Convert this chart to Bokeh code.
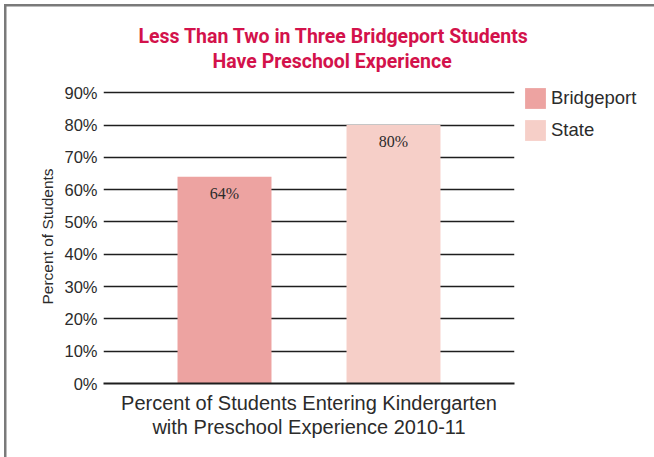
from bokeh.plotting import figure
from bokeh.models import (FactorRange, Range1d, Legend, LegendItem, Title,
                          ColumnDataSource, LabelSet, FixedTicker)
from bokeh.embed import file_html
from bokeh.resources import INLINE

# ---- data ----
categories = ["Bridgeport", "State"]
values = [64, 80]
value_labels = ["64%", "80%"]
bar_colors = ["#eda3a1", "#f6cfc8"]
y_ticks = [0, 10, 20, 30, 40, 50, 60, 70, 80, 90]
y_tick_labels = ["0%", "10%", "20%", "30%", "40%", "50%", "60%", "70%", "80%", "90%"]
title_lines = ["Less Than Two in Three Bridgeport Students", "Have Preschool Experience"]
x_label_lines = ["Percent of Students Entering Kindergarten", "with Preschool Experience 2010-11"]
y_label = "Percent of Students"

# ---- layout ----
W, H = 654, 457
Y_END = 91
B, T = 383, 89
L, R = 103, 514
PAD = 0.216

CRIMSON = "#d3124b"
TXT = "#2b2b2b"
FONT = "Liberation Sans"
TFONT = "Roboto"

p = figure(frame_width=R - L, frame_height=B - T,
           x_range=FactorRange(factors=categories, range_padding=PAD,
                               range_padding_units="absolute"),
           y_range=Range1d(0, Y_END),
           output_backend="svg", toolbar_location=None,
           min_border_left=L, min_border_right=W - R,
           min_border_top=T, min_border_bottom=H - B)
p.title = None
p.outline_line_color = None
p.background_fill_color = "white"
p.border_fill_color = None
p.styles = {"box-shadow": "inset 4px 4px 0 0 #ffffff, inset 6.5px 6.5px 0 0 #7a7a7a"}

src = ColumnDataSource(dict(cat=categories, val=values, lbl=value_labels, col=bar_colors))
bars = p.vbar(x="cat", top="val", width=0.556, fill_color="col", line_color=None, source=src)

# grid
p.xgrid.grid_line_color = None
p.ygrid.ticker = FixedTicker(ticks=y_ticks)
p.ygrid.grid_line_color = "#1e1e1e"
p.ygrid.grid_line_width = 1.6

# y axis
p.yaxis.ticker = FixedTicker(ticks=y_ticks)
p.yaxis.major_label_overrides = {t: s for t, s in zip(y_ticks, y_tick_labels)}
p.yaxis.axis_line_color = None
p.yaxis.major_tick_line_color = None
p.yaxis.major_tick_out = 0
p.yaxis.major_tick_in = 0
p.yaxis.minor_tick_line_color = None
p.yaxis.major_label_standoff = 6
p.yaxis.major_label_text_font = FONT
p.yaxis.major_label_text_font_size = "16.5px"
p.yaxis.major_label_text_color = TXT
p.yaxis.axis_label = y_label
p.yaxis.axis_label_standoff = 5
p.yaxis.axis_label_text_font = FONT
p.yaxis.axis_label_text_font_size = "15.5px"
p.yaxis.axis_label_text_font_style = "normal"
p.yaxis.axis_label_text_color = TXT

# x axis
p.xaxis.major_label_text_color = None
p.xaxis.major_label_text_font_size = "1px"
p.xaxis.major_tick_line_color = None
p.xaxis.major_tick_out = 0
p.xaxis.major_tick_in = 0
p.xaxis.minor_tick_line_color = None
p.xaxis.axis_line_color = "#1e1e1e"
p.xaxis.axis_line_width = 2

# bar labels
p.add_layout(LabelSet(x="cat", y="val", text="lbl", source=src, y_offset=-8,
                      text_align="center", text_baseline="top",
                      text_font=FONT, text_font_size="16px", text_color=TXT))

# title: spacer nearest the frame, then line 2, then line 1
p.add_layout(Title(text=" ", standoff=14, text_font_size="1px"), "above")
title_offsets = [35, 109]
for line, off in [(title_lines[1], title_offsets[1]), (title_lines[0], title_offsets[0])]:
    p.add_layout(Title(text=line, align="left", offset=off, standoff=0,
                       text_font=TFONT, text_font_style="bold",
                       text_font_size="19.5px", text_color=CRIMSON), "above")

# x label: spacer nearest the axis, then the two lines
p.add_layout(Title(text=" ", standoff=3, text_font_size="1px"), "below")
for line in x_label_lines:
    p.add_layout(Title(text=line, align="center", standoff=0,
                       text_font=FONT, text_font_style="normal",
                       text_font_size="20px", text_color=TXT), "below")

# legend
legend = Legend(items=[LegendItem(label=categories[0], renderers=[bars], index=0),
                       LegendItem(label=categories[1], renderers=[bars], index=1)],
                location=(8, 240), orientation="vertical",
                padding=0, margin=0, spacing=6,
                glyph_width=26, glyph_height=26, label_height=26, label_standoff=3,
                label_text_font=FONT, label_text_font_size="18.5px", label_text_color=TXT,
                border_line_color=None, background_fill_alpha=0)
p.add_layout(legend, "right")

open("out.html", "w").write(file_html(p, INLINE))
